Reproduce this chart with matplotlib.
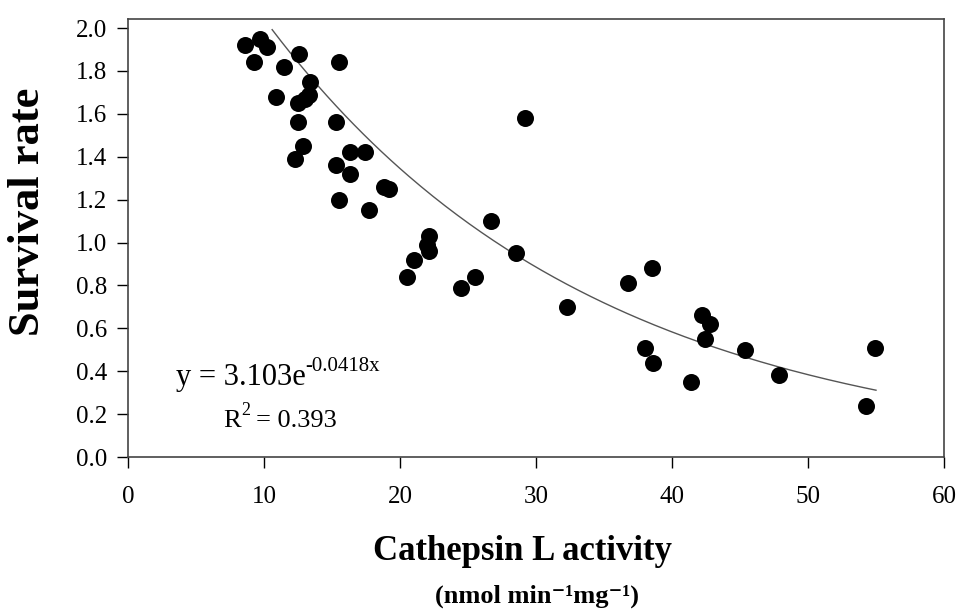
import numpy as np
import matplotlib
matplotlib.use('Agg')
import matplotlib.pyplot as plt

# Survival rate vs cathepsin L activity
activity = [8.6, 9.7, 10.2, 9.3, 11.5, 12.6, 15.5, 13.4, 10.9, 13.3, 12.5, 13.0,
            12.5, 15.3, 12.9, 12.3, 16.3, 17.4, 15.3, 16.3, 18.8, 19.2, 15.5, 17.7,
            29.2, 26.7, 22.1, 22.0, 22.1, 21.0, 20.5, 25.5, 24.5, 28.5, 32.3, 36.8,
            38.5, 38.0, 38.6, 42.2, 42.8, 42.4, 45.4, 41.4, 47.9, 54.9, 54.3]
survival = [1.92, 1.95, 1.91, 1.84, 1.82, 1.88, 1.84, 1.75, 1.68, 1.69, 1.65, 1.67,
            1.56, 1.56, 1.45, 1.39, 1.42, 1.42, 1.36, 1.32, 1.26, 1.25, 1.20, 1.15,
            1.58, 1.10, 1.03, 0.99, 0.96, 0.92, 0.84, 0.84, 0.79, 0.95, 0.70, 0.81,
            0.88, 0.51, 0.44, 0.66, 0.62, 0.55, 0.50, 0.35, 0.38, 0.51, 0.24]

# exponential trend line: y = a * exp(b x)
fit_a = 3.103
fit_b = -0.0418
fit_r2 = 0.393
fit_range = (10.6, 55.0)

x_ticks = [0, 10, 20, 30, 40, 50, 60]
y_ticks = [0.0, 0.2, 0.4, 0.6, 0.8, 1.0, 1.2, 1.4, 1.6, 1.8, 2.0]

plt.rcParams['font.family'] = ['Liberation Serif', 'DejaVu Serif']

W, H = 962, 610
fig = plt.figure(figsize=(W / 100, H / 100), dpi=100)
ax = fig.add_axes([128 / W, 1 - 457 / H, (944 - 128) / W, (457 - 19) / H])

ax.scatter(activity, survival, s=150, color='black', zorder=3, linewidths=0)

xf = np.linspace(fit_range[0], fit_range[1], 200)
ax.plot(xf, fit_a * np.exp(fit_b * xf), color='#555555', lw=1.0, zorder=2)

ax.set_xlim(0, 60)
ax.set_ylim(0, 2.042)
ax.set_xticks(x_ticks)
ax.set_yticks(y_ticks)
ax.set_yticklabels([f'{v:.1f}' for v in y_ticks])
ax.tick_params(axis='x', direction='out', length=8, width=1, pad=13, labelsize=18)
ax.tick_params(axis='y', direction='out', length=8, width=1, pad=7, labelsize=18)
for side in ['left', 'bottom', 'right', 'top']:
    ax.spines[side].set_color('#444444')
    ax.spines[side].set_linewidth(1.2)

# equation and R^2 (superscripts built from separate texts)
eq = ax.text(3.5, 0.37, f'y = {fit_a:.3f}e', fontsize=22, ha='left', va='center')
ax.annotate(f'{fit_b:.4f}x', xy=(1, 0.55), xycoords=eq, xytext=(0, 0),
            textcoords='offset points', fontsize=15, ha='left', va='bottom')

r2 = ax.text(7.0, 0.17, 'R', fontsize=19, ha='left', va='center')
sup = ax.annotate('2', xy=(1, 0.55), xycoords=r2, xytext=(0.5, 0),
                  textcoords='offset points', fontsize=13, ha='left', va='bottom')
ax.annotate(f'= {fit_r2:.3f}', xy=(1, 0.5), xycoords=(sup, r2), xytext=(4, 0),
            textcoords='offset points', fontsize=19, ha='left', va='center')

# axis titles
fig.text(28 / W, 1 - 212 / H, 'Survival rate', rotation=90, fontsize=32,
         fontweight='bold', ha='center', va='center')
fig.text(523 / W, 1 - 552 / H, 'Cathepsin L activity', fontsize=25,
         fontweight='bold', ha='center', va='center')
fig.text(537 / W, 1 - 596 / H, '(nmol min\u207b\u00b9mg\u207b\u00b9)',
         fontsize=19, fontweight='bold', ha='center', va='center')

fig.savefig('out.png', dpi=100)
